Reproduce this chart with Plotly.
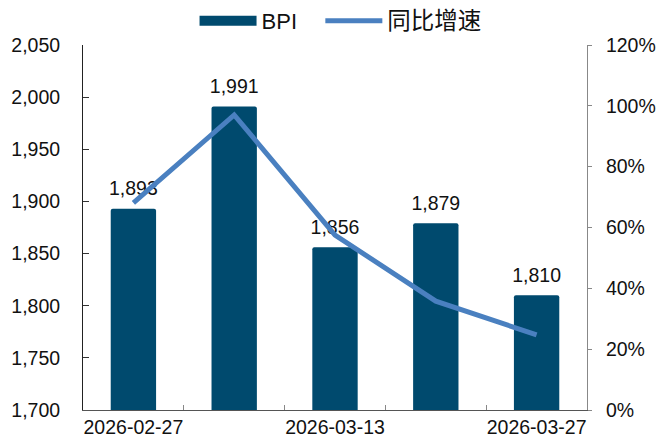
import plotly.graph_objects as go

dates = ["2026-02-27", "2026-03-06", "2026-03-13", "2026-03-20", "2026-03-27"]
shown_labels = ["2026-02-27", "", "2026-03-13", "", "2026-03-27"]
bpi = [1893, 1991, 1856, 1879, 1810]
yoy = [0.681, 0.970, 0.575, 0.358, 0.247]

BAR_COLOR = "#004A6E"
LINE_COLOR = "#4A80C0"
FONT = "Liberation Sans, Arial, sans-serif"

fig = go.Figure()
fig.add_trace(go.Bar(
    x=dates, y=bpi, name="BPI", showlegend=False,
    marker=dict(color=BAR_COLOR, line=dict(width=0), cornerradius=2),
    width=0.45,
))
# value labels above the bars
fig.add_trace(go.Scatter(
    x=dates, y=bpi, mode="markers+text", showlegend=False, hoverinfo="skip",
    marker=dict(size=12, opacity=0),
    text=[f"{v:,}" for v in bpi], textposition="top center",
    textfont=dict(family=FONT, size=19.5, color="#111111"),
    cliponaxis=False,
))
# legend entry for the bars (wide swatch as in the reference)
fig.add_trace(go.Scatter(
    x=[None], y=[None], name="BPI\u00a0\u00a0\u00a0", mode="lines",
    line=dict(color=BAR_COLOR, width=16),
))
fig.add_trace(go.Scatter(
    x=dates, y=yoy, name="<span style='font-size:23.5px'>同比增速</span>", yaxis="y2", mode="lines",
    line=dict(color=LINE_COLOR, width=5),
))

fig.update_layout(
    width=657, height=448,
    margin=dict(l=83, r=70, t=45, b=38, autoexpand=False),
    paper_bgcolor="white", plot_bgcolor="white",
    font=dict(family=FONT, size=19.5, color="#111111"),
    showlegend=True,
    legend=dict(orientation="h", x=0.511, xanchor="center", y=1.0, yanchor="top",
                yref="container", itemwidth=57,
                font=dict(family="Liberation Sans, Noto Sans CJK SC, sans-serif", size=22),
                bgcolor="rgba(0,0,0,0)"),
    bargap=0.55,
    xaxis=dict(
        type="category", tickson="boundaries", tickvals=dates, ticktext=shown_labels,
        ticks="inside", ticklen=5, tickcolor="#888888", tickwidth=1, tickangle=0,
        automargin=False,
        showline=True, linecolor="#555555", linewidth=1,
        showgrid=False, zeroline=False, tickfont=dict(size=19.5),
    ),
    yaxis=dict(
        range=[1700, 2050], dtick=50, tick0=1700, tickformat=",",
        ticks="inside", ticklen=6, tickcolor="#333333", automargin=False,
        showline=True, linecolor="#222222", linewidth=1,
        showgrid=False, zeroline=False, ticklabelstandoff=18,
    ),
    yaxis2=dict(
        range=[0, 1.2], dtick=0.2, tick0=0, tickformat=".0%",
        overlaying="y", side="right", automargin=False,
        ticks="outside", ticklen=4, tickcolor="#888888",
        showline=True, linecolor="#888888", linewidth=1,
        showgrid=False, zeroline=False, ticklabelstandoff=10,
    ),
)

fig.write_html("out.html")
